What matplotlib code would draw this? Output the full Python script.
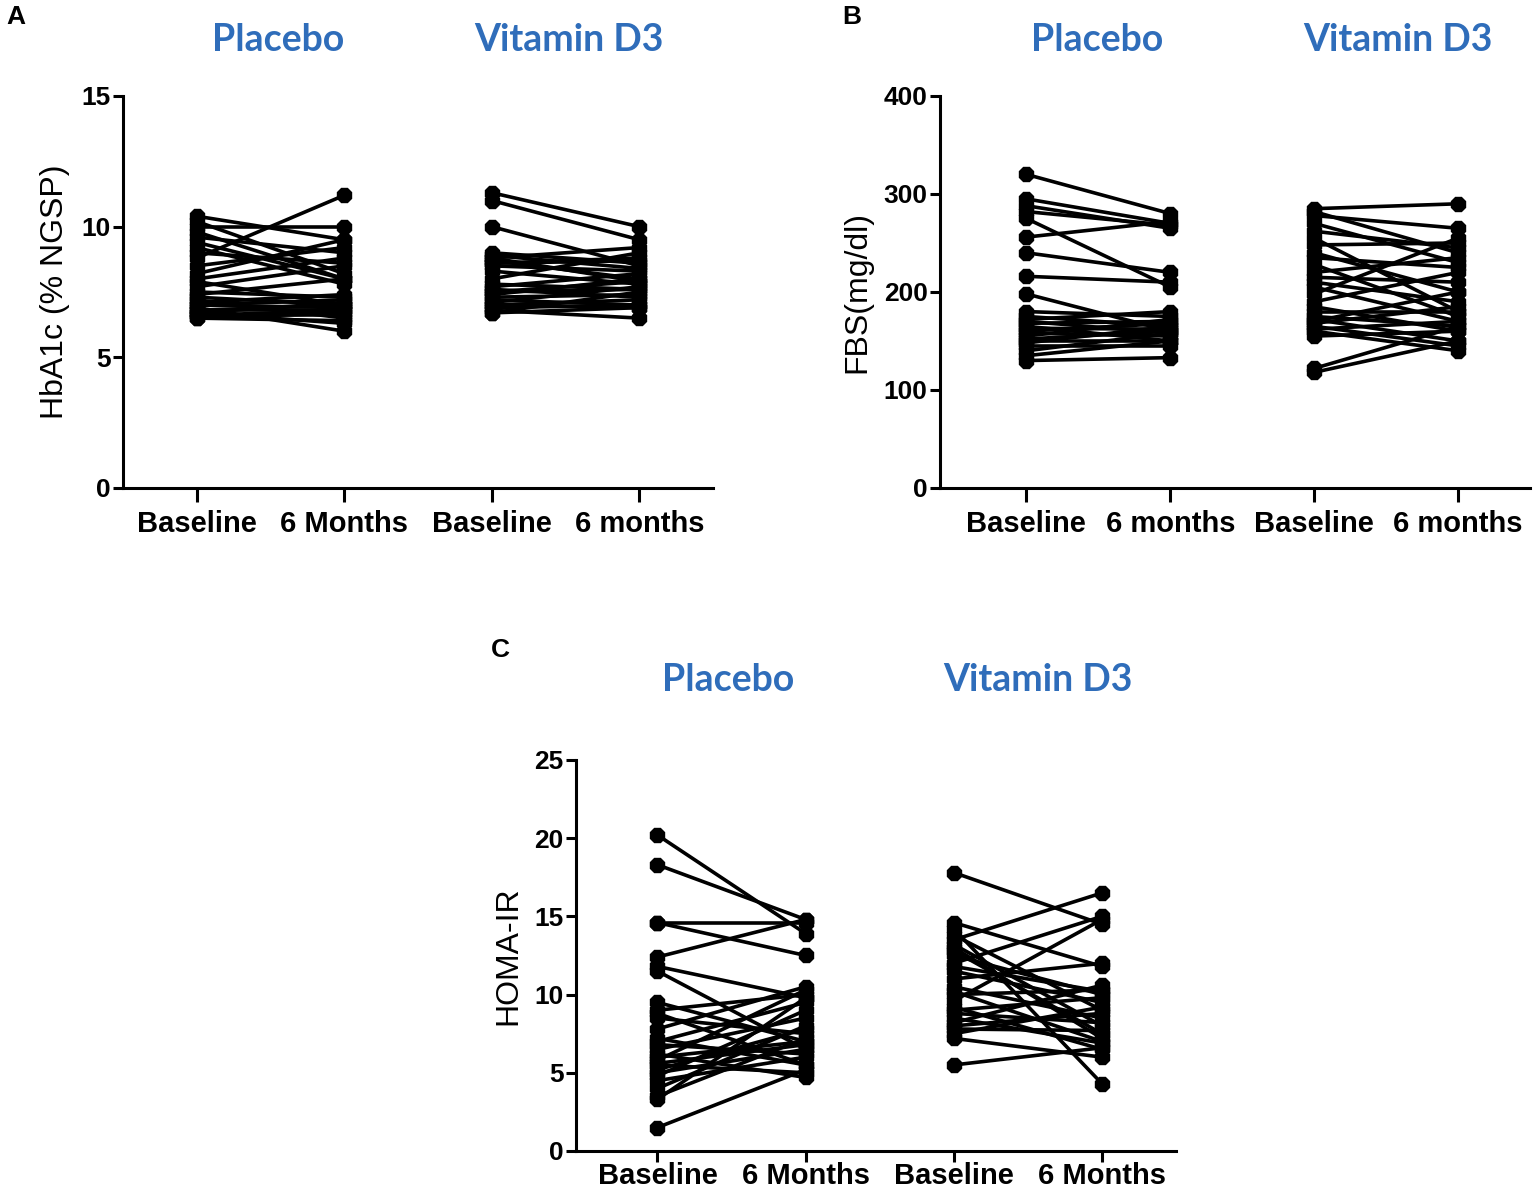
import matplotlib
matplotlib.use("Agg")
import matplotlib.pyplot as plt

# HbA1c (% NGSP)
hba1c_pl_base = [10.4, 10.2, 10.0, 9.8, 9.6, 9.4, 9.2, 8.8, 8.2, 8.0, 7.9, 7.7, 7.5, 7.3, 7.2,
                 7.0, 7.0, 6.9, 6.8, 6.8, 6.7, 6.7, 6.6, 6.6, 6.5, 6.5, 7.4, 8.5, 9.0, 7.1]
hba1c_pl_6m = [9.5, 8.2, 10.0, 8.0, 9.0, 8.0, 7.8, 11.2, 9.5, 8.8, 7.0, 8.5, 7.3, 7.0, 6.5,
               7.2, 6.9, 6.0, 7.0, 6.8, 6.3, 7.1, 6.6, 6.8, 6.4, 6.7, 8.0, 9.2, 8.6, 7.4]
hba1c_vd_base = [11.3, 11.0, 10.0, 9.0, 8.9, 8.8, 8.7, 8.6, 8.5, 8.3, 8.0, 7.8, 7.7, 7.6, 7.5,
                 7.4, 7.3, 7.2, 7.1, 7.0, 6.9, 6.8, 6.7, 6.7, 8.6, 8.8, 7.5, 7.0]
hba1c_vd_6m = [10.0, 9.5, 8.5, 8.6, 8.4, 7.9, 8.0, 8.8, 8.3, 7.8, 9.0, 7.6, 8.2, 7.3, 7.9,
               8.0, 7.4, 7.0, 7.7, 7.2, 7.0, 6.5, 6.9, 7.5, 8.7, 9.2, 7.6, 6.9]

# FBS (mg/dl)
fbs_pl_base = [320, 295, 288, 282, 275, 256, 240, 216, 198, 180, 175, 172, 170, 168, 165,
               163, 160, 158, 155, 152, 150, 148, 145, 140, 135, 130]
fbs_pl_6m = [280, 270, 265, 268, 205, 272, 220, 210, 160, 175, 165, 180, 158, 170, 150,
             162, 168, 155, 172, 160, 150, 165, 145, 158, 150, 133]
fbs_vd_base = [285, 282, 278, 270, 262, 255, 248, 240, 235, 228, 220, 215, 210, 205, 198,
               190, 185, 180, 175, 172, 170, 168, 165, 162, 160, 155, 122, 118]
fbs_vd_6m = [290, 240, 265, 230, 245, 180, 250, 200, 225, 175, 235, 210, 190, 170, 255,
             220, 160, 180, 165, 150, 200, 185, 145, 170, 140, 160, 165, 150]

# HOMA-IR
homa_pl_base = [20.2, 18.3, 14.6, 14.6, 12.4, 11.8, 11.5, 9.5, 9.0, 8.8, 8.5, 7.8, 7.0, 6.8, 6.5,
                6.0, 5.8, 5.5, 5.2, 5.0, 4.8, 4.5, 4.0, 3.5, 3.3, 1.5, 6.2, 5.6, 7.2]
homa_pl_6m = [13.9, 14.8, 14.6, 12.5, 14.8, 9.8, 6.5, 7.0, 10.0, 5.5, 7.5, 10.5, 9.5, 6.2, 8.5,
              7.0, 10.3, 5.0, 7.8, 6.5, 9.0, 6.0, 8.0, 7.2, 9.8, 5.2, 4.7, 6.8, 5.5]
homa_vd_base = [17.8, 14.6, 14.2, 13.8, 13.5, 13.2, 12.8, 12.5, 12.0, 11.5, 11.0, 10.5, 10.2, 10.0,
                9.6, 9.2, 9.0, 8.8, 8.5, 8.2, 8.0, 7.8, 7.5, 7.2, 5.5, 13.0, 11.8]
homa_vd_6m = [14.5, 11.8, 4.3, 9.0, 16.5, 8.0, 7.5, 10.0, 15.0, 9.5, 12.0, 8.5, 7.0, 10.3,
              14.8, 6.5, 9.8, 8.2, 6.9, 10.6, 8.8, 7.7, 9.2, 6.0, 6.6, 7.2, 10.2]

blue = "#2f6dba"


def draw_panel(ax, pl_base, pl_6m, vd_base, vd_6m, ymax, step, ylabel, xlabels, xlim,
               title_x, title_y, xpad=6, xlen=10):
    for a, b in zip(pl_base, pl_6m):
        ax.plot([0, 1], [a, b], color="black", lw=2.6, marker="8", ms=11, mec="black", mfc="black")
    for a, b in zip(vd_base, vd_6m):
        ax.plot([2, 3], [a, b], color="black", lw=2.6, marker="8", ms=11, mec="black", mfc="black")
    ax.set_xlim(*xlim)
    ax.set_ylim(0, ymax)
    ax.set_yticks(range(0, ymax + 1, step))
    ax.set_xticks([0, 1, 2, 3])
    ax.set_xticklabels(xlabels, fontsize=21, fontweight="bold", family="Liberation Sans")
    for t in ax.get_yticklabels():
        t.set_fontsize(19)
        t.set_fontweight("bold")
        t.set_family("Liberation Sans")
    ax.spines["top"].set_visible(False)
    ax.spines["right"].set_visible(False)
    ax.spines["left"].set_linewidth(2.2)
    ax.spines["bottom"].set_linewidth(2.2)
    ax.tick_params(axis="y", length=7, width=2.2, pad=2)
    ax.tick_params(axis="x", length=xlen, width=2.2, pad=xpad)
    ax.set_ylabel(ylabel, fontsize=23, family="Liberation Sans", labelpad=8)
    ax.text(title_x[0], title_y, "Placebo", transform=ax.get_xaxis_transform(), ha="center",
            va="center", color=blue, fontsize=27, fontweight="bold", family="Lato")
    ax.text(title_x[1], title_y, "Vitamin D3", transform=ax.get_xaxis_transform(), ha="center",
            va="center", color=blue, fontsize=27, fontweight="bold", family="Lato")


fig = plt.figure(figsize=(15.35, 11.91), dpi=100)

ax_a = fig.add_axes([0.0801, 0.5903, 0.3844, 0.3291])
draw_panel(ax_a, hba1c_pl_base, hba1c_pl_6m, hba1c_vd_base, hba1c_vd_6m, 15, 5,
           "HbA1c (% NGSP)", ["Baseline", "6 Months", "Baseline", "6 months"],
           (-0.5, 3.5), (0.55, 2.52), 1.143)

ax_b = fig.add_axes([0.6124, 0.5903, 0.3844, 0.3291])
draw_panel(ax_b, fbs_pl_base, fbs_pl_6m, fbs_vd_base, fbs_vd_6m, 400, 100,
           "FBS(mg/dl)", ["Baseline", "6 months", "Baseline", "6 months"],
           (-0.6, 3.5), (0.49, 2.58), 1.143)

ax_c = fig.add_axes([0.3752, 0.0336, 0.391, 0.3283])
draw_panel(ax_c, homa_pl_base, homa_pl_6m, homa_vd_base, homa_vd_6m, 25, 5,
           "HOMA-IR", ["Baseline", "6 Months", "Baseline", "6 Months"],
           (-0.55, 3.5), (0.48, 2.57), 1.205, xpad=0, xlen=8)

fig.text(0.004, 0.986, "A", fontsize=19, fontweight="bold", family="Liberation Sans", va="center")
fig.text(0.549, 0.986, "B", fontsize=19, fontweight="bold", family="Liberation Sans", va="center")
fig.text(0.320, 0.454, "C", fontsize=19, fontweight="bold", family="Liberation Sans", va="center")

fig.savefig("out.png", dpi=100)
